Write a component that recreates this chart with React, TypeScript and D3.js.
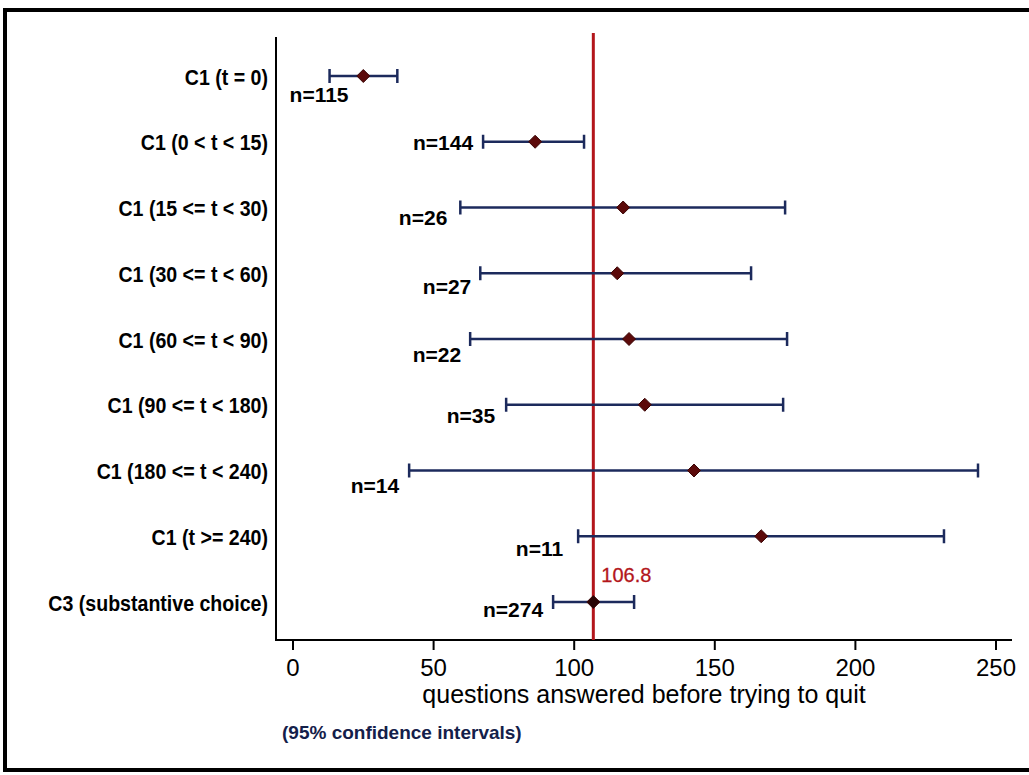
import React from 'react';
import * as d3 from 'd3';

// rows, top to bottom
const categories = [
  'C1 (t = 0)',
  'C1 (0 < t < 15)',
  'C1 (15 <= t < 30)',
  'C1 (30 <= t < 60)',
  'C1 (60 <= t < 90)',
  'C1 (90 <= t < 180)',
  'C1 (180 <= t < 240)',
  'C1 (t >= 240)',
  'C3 (substantive choice)',
];
const means = [25.0, 86.1, 117.4, 115.3, 119.5, 125.1, 142.6, 166.5, 106.8];
const lower = [13.0, 67.6, 59.5, 66.6, 63.0, 75.8, 41.3, 101.4, 92.5];
const upper = [37.1, 103.5, 175.0, 162.9, 175.7, 174.3, 243.6, 231.5, 121.3];
const counts = [115, 144, 26, 27, 22, 35, 14, 11, 274];
const xTicks = [0, 50, 100, 150, 200, 250];
const refValue = 106.8;

// where the n= label sits relative to the lower cap (right edge dx, centre dy)
const labelOffsets: [number, number][] = [
  [19, 18], [-10, 1], [-13, 10], [-9, 13], [-9, 15], [-11, 11], [-10, 15], [-15, 12], [-10, 7],
];

const FONT = '"Liberation Sans", Arial, Helvetica, sans-serif';
const NAVY = '#1c2a5c';
const RED = '#b3161b';

export default function App() {
  const W = 1029;
  const H = 775;
  const axisX = 276;
  const axisY = 640;
  const plotTop = 37;

  const x = d3.scaleLinear().domain([0, 250]).range([293, 996]);
  const y = d3.scalePoint<string>().domain(categories).range([76, 602]);

  // square diamond like Stata's marker
  const diamond = 'M0,-6.5L6.5,0L0,6.5L-6.5,0Z';

  return (
    <div style={{ position: 'absolute', left: 0, top: 0 }}>
      <svg width={W} height={H} style={{ display: 'block', background: '#fff' }} fontFamily={FONT}>
        {/* scanned page frame */}
        <rect x={5} y={10} width={W + 20} height={760} fill="none" stroke="#000" strokeWidth={4} />

        {/* axes */}
        <line x1={axisX} y1={plotTop} x2={axisX} y2={axisY + 1} stroke="#000" strokeWidth={2} />
        <line x1={axisX} y1={axisY} x2={1012} y2={axisY} stroke="#000" strokeWidth={2} />
        {xTicks.map((t) => (
          <g key={t}>
            <line x1={x(t)} y1={axisY} x2={x(t)} y2={axisY + 10} stroke="#000" strokeWidth={2} />
            <text x={x(t)} y={676} textAnchor="middle" fontSize={24} fill="#000">
              {t}
            </text>
          </g>
        ))}
        <text x={644} y={703} textAnchor="middle" fontSize={25} fill="#000">
          questions answered before trying to quit
        </text>
        <text x={282} y={739} fontSize={19} fontWeight="bold" fill="#14204a">
          (95% confidence intervals)
        </text>

        {/* category labels, slightly condensed as in the scan */}
        {categories.map((c) => (
          <text
            key={c}
            transform={`translate(268,${(y(c) as number) + 8.5}) scale(0.89,1)`}
            textAnchor="end"
            fontSize={22}
            fontWeight="bold"
            fill="#000"
          >
            {c}
          </text>
        ))}

        {/* reference line */}
        <line x1={x(refValue)} y1={33} x2={x(refValue)} y2={axisY} stroke={RED} strokeWidth={3} />
        <text x={x(refValue) + 8} y={582} fontSize={20} fill={RED} stroke={RED} strokeWidth={0.3}>
          {refValue}
        </text>

        {/* intervals */}
        {categories.map((c, i) => {
          const cy = y(c) as number;
          const x0 = x(lower[i]);
          const x1 = x(upper[i]);
          const [dx, dy] = labelOffsets[i];
          return (
            <g key={c}>
              <line x1={x0} y1={cy} x2={x1} y2={cy} stroke={NAVY} strokeWidth={2.5} />
              <line x1={x0} y1={cy - 7} x2={x0} y2={cy + 7} stroke={NAVY} strokeWidth={2.5} />
              <line x1={x1} y1={cy - 7} x2={x1} y2={cy + 7} stroke={NAVY} strokeWidth={2.5} />
              <path d={diamond} transform={`translate(${x(means[i])},${cy})`} fill={i === 8 ? '#2a0505' : '#5c0a0a'} stroke="#3a0505" strokeWidth={1} />
              <text x={x0 + dx} y={cy + dy + 7.5} textAnchor="end" fontSize={21} fontWeight="bold" fill="#000">
                {`n=${counts[i]}`}
              </text>
            </g>
          );
        })}
      </svg>
    </div>
  );
}
